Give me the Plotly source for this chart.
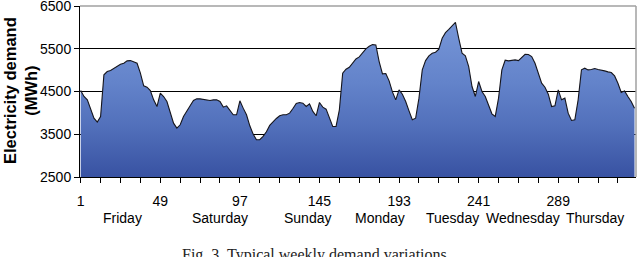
import plotly.graph_objects as go

# ---- data (hourly samples of half-hourly index 1..336) ----
hours = list(range(1, 336, 2))
demand = [
    4523, 4383, 4305, 4111, 3877, 3784, 3916, 4889, 4967, 4990,
    5045, 5099, 5138, 5161, 5216, 5223, 5185, 5161, 4928, 4632,
    4601, 4523, 4305, 4149, 4461, 4383, 4266, 3994, 3760, 3644,
    3721, 3916, 4056, 4165, 4290, 4328, 4328, 4321, 4305, 4290,
    4305, 4305, 4266, 4134, 4165, 4056, 3955, 3955, 4282, 4111,
    3955, 3698, 3503, 3371, 3371, 3449, 3558, 3706, 3791, 3869,
    3932, 3955, 3955, 3994, 4103, 4219, 4243, 4227, 4149, 4212,
    4033, 3932, 4243, 4134, 4087, 3877, 3682, 3682, 4072, 4928,
    5021, 5068, 5177, 5262, 5309, 5410, 5496, 5558, 5597, 5589,
    5200, 4912, 4920, 4749, 4492, 4305, 4539, 4437, 4266, 4048,
    3838, 3877, 4344, 5006, 5223, 5332, 5395, 5418, 5488, 5745,
    5877, 5955, 6041, 6119, 5745, 5395, 5332, 5083, 4616, 4383,
    4733, 4500, 4383, 4188, 3978, 3916, 4344, 5006, 5231, 5216,
    5223, 5239, 5223, 5301, 5371, 5364, 5317, 5161, 4897, 4694,
    4601, 4437, 4149, 4165, 4539, 4305, 4344, 3994, 3823, 3838,
    4305, 5006, 5045, 5006, 5013, 5037, 5013, 5006, 4982, 4959,
    4943, 4865, 4694, 4476, 4515, 4383, 4266, 4111,
]
x_tick_vals = list(range(1, 337, 12))
x_label_vals = [1, 49, 97, 145, 193, 241, 289]
day_names = ["Friday", "Saturday", "Sunday", "Monday", "Tuesday", "Wednesday", "Thursday"]
day_pos = [26.5, 85, 137.5, 181.5, 225.5, 267.7, 311]
y_ticks = [2500, 3500, 4500, 5500, 6500]
caption = "Fig. 3. Typical weekly demand variations."

# ---- layout geometry (pixels) ----
W, H = 640, 257
L, R, T, B = 80, 4, 6, 80
PW, PH = W - L - R, H - T - B
SANS = "Liberation Sans, Arial, sans-serif"


def px_x(px):
    return (px - L) / PW


def px_y(py):
    return (H - B - py) / PH


fig = go.Figure()
fig.add_trace(go.Scatter(
    x=hours, y=demand, mode="lines",
    line=dict(color="#15151c", width=1.1),
    fill="tozeroy",
    fillgradient=dict(
        type="vertical", start=2500, stop=6500,
        colorscale=[[0, "#3852a2"], [0.3, "#5270bb"], [0.55, "#6383ca"], [1, "#7c9bdb"]],
    ),
    hoverinfo="skip",
))

fig.update_layout(
    width=W, height=H,
    margin=dict(l=L, r=R, t=T, b=B, autoexpand=False),
    paper_bgcolor="white", plot_bgcolor="white",
    showlegend=False,
    font=dict(family=SANS, color="black"),
)
fig.update_xaxes(
    range=[0.58, 335.9], automargin=False,
    tickmode="array", tickvals=x_tick_vals,
    ticktext=[str(v) if v in x_label_vals else "" for v in x_tick_vals],
    ticks="outside", ticklen=5, tickcolor="black", tickwidth=1,
    showline=True, linecolor="black", linewidth=1,
    showgrid=False, zeroline=False,
    tickfont=dict(size=14, family=SANS),
    ticklabelstandoff=6, ticklabeloverflow="allow",
)
fig.update_yaxes(
    range=[2500, 6500], automargin=False,
    tickmode="array", tickvals=y_ticks,
    ticks="outside", ticklen=5, tickcolor="black", tickwidth=1,
    showline=True, linecolor="black", linewidth=1,
    showgrid=True, gridcolor="black", gridwidth=1,
    zeroline=False,
    tickfont=dict(size=14, family=SANS),
    ticklabeloverflow="allow",
)

# gray top and right frame
fig.add_shape(type="line", xref="paper", yref="paper", x0=0, x1=1, y0=1, y1=1,
              line=dict(color="#a0a0a0", width=1.5), layer="above")
fig.add_shape(type="line", xref="paper", yref="paper", x0=1, x1=1, y0=0, y1=1,
              line=dict(color="#a0a0a0", width=1.5), layer="above")

# day labels
for name, pos in zip(day_names, day_pos):
    fig.add_annotation(x=pos, xref="x", y=px_y(218), yref="paper",
                       text=name, showarrow=False, xanchor="center", yanchor="middle",
                       font=dict(size=14, family=SANS, color="black"))

# y axis title
fig.add_annotation(x=px_x(20), xref="paper", y=px_y(91), yref="paper",
                   text="<b>Electricity demand<br>(MWh)</b>", textangle=-90,
                   showarrow=False, xanchor="center", yanchor="middle",
                   font=dict(size=16.5, family=SANS, color="black"))

# caption (cut at the bottom edge, as in the source)
fig.add_annotation(x=px_x(316), xref="paper", y=px_y(255), yref="paper",
                   text=caption, showarrow=False, xanchor="center", yanchor="middle",
                   font=dict(size=16, family="Liberation Serif, Times New Roman, serif", color="#222"))

fig.write_html("out.html", config={"displayModeBar": False, "staticPlot": True},
               post_script="document.body.style.margin='0';document.body.style.overflow='hidden';")
